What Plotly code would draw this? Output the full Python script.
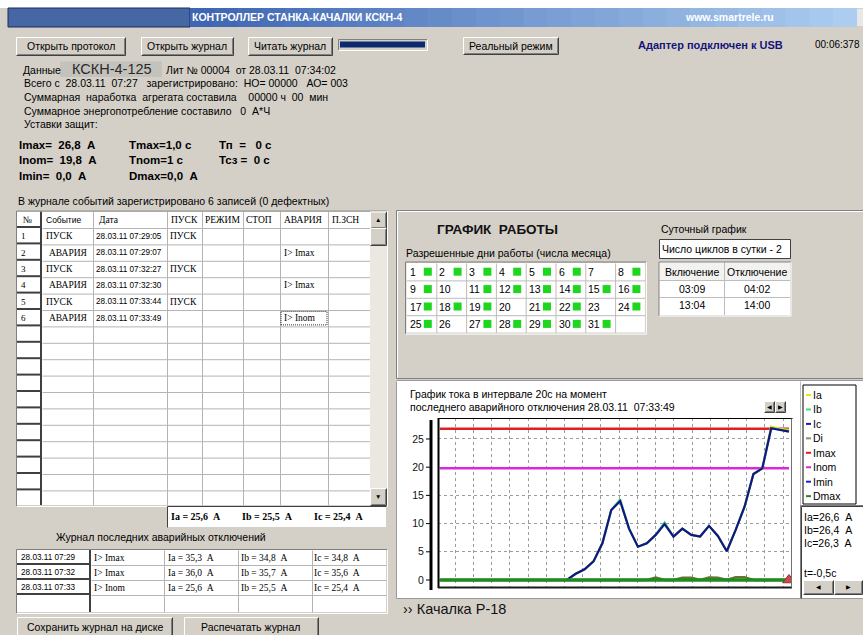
import plotly.graph_objects as go

W, H = 863, 635
BG = "#d4d0c8"
SANS = "Liberation Sans, Arial, sans-serif"
SERIF = "Liberation Serif, Times New Roman, serif"

# ---------------- data ----------------
time_s = [-20.0, -19.5, -19.0, -18.5, -18.0, -17.5, -17.0, -16.5, -16.0, -15.5,
          -15.0, -14.5, -14.0, -13.5, -13.0, -12.5, -12.0, -11.5, -11.0, -10.5,
          -10.0, -9.5, -9.0, -8.5, -8.0, -7.5, -7.0, -6.5, -6.0, -5.5,
          -5.0, -4.5, -4.0, -3.5, -3.0, -2.5, -2.0, -1.5, -1.0, -0.5]
current_ia = [0, 0, 0, 0, 0, 0, 0, 0, 0, 0, 0, 0, 0, 0, 0,
              1.1, 1.9, 3.3, 6.5, 12.4, 14.0, 9.1, 5.9, 6.5, 8.0,
              9.9, 7.7, 9.1, 8.0, 7.7, 9.6, 7.8, 5.1, 8.9, 13.0,
              18.8, 19.8, 27.2, 26.8, 26.6]
current_ib = [0, 0, 0, 0, 0, 0, 0, 0, 0, 0, 0, 0, 0, 0, 0,
              1.1, 1.9, 3.3, 6.5, 12.4, 14.3, 9.1, 5.9, 6.5, 8.0,
              10.2, 7.7, 9.1, 8.0, 7.7, 9.6, 7.8, 5.1, 8.9, 13.0,
              18.8, 19.8, 26.9, 26.6, 26.4]
current_ic = [0, 0, 0, 0, 0, 0, 0, 0, 0, 0, 0, 0, 0, 0, 0,
              1.1, 1.9, 3.3, 6.5, 12.4, 14.0, 9.1, 5.9, 6.5, 8.0,
              9.9, 7.7, 9.1, 8.0, 7.7, 9.6, 7.8, 5.1, 8.9, 13.0,
              18.8, 19.8, 26.9, 26.6, 26.3]
current_di = [0, 0, 0, 0, 0, 0, 0, 0, 0, 0, 0, 0, 0, 0, 0,
              0, 0, 0, 0, 0, 0, 0, 0, 0, 0.45,
              0, 0, 0.4, 0.4, 0, 0.45, 0.4, 0, 0.5, 0.5,
              0, 0, 0, 0, 0]
IMAX, INOM, IMIN, DMAX = 26.8, 19.8, 0.0, 0.0
trip_t = [-0.5]
trip_v = [0.0]
y_ticks = [0, 5, 10, 15, 20, 25]

legend_names = ["Ia", "Ib", "Ic", "Di", "Imax", "Inom", "Imin", "Dmax"]
legend_colors = ["#e6e600", "#3ee07a", "#1a1ac0", "#8c8c78", "#e02020", "#d82ad8", "#2020d0", "#218a21"]

ev_headers = ["№", "Событие", "Дата", "ПУСК", "РЕЖИМ", "СТОП", "АВАРИЯ", "П.ЗСН"]
ev_no = ["1", "2", "3", "4", "5", "6"]
ev_type = ["ПУСК", "АВАРИЯ", "ПУСК", "АВАРИЯ", "ПУСК", "АВАРИЯ"]
ev_date = ["28.03.11 07:29:05", "28.03.11 07:29:07", "28.03.11 07:32:27",
           "28.03.11 07:32:30", "28.03.11 07:33:44", "28.03.11 07:33:49"]
ev_start = ["ПУСК", "", "ПУСК", "", "ПУСК", ""]
ev_alarm = ["", "I> Imax", "", "I> Imax", "", "I> Inom"]

al_date = ["28.03.11 07:29", "28.03.11 07:32", "28.03.11 07:33"]
al_reason = ["I> Imax", "I> Imax", "I> Inom"]
al_ia = ["35,3", "36,0", "25,6"]
al_ib = ["34,8", "35,7", "25,5"]
al_ic = ["34,8", "35,6", "25,4"]

day_numbers = [1, 2, 3, 4, 5, 6, 7, 8, 9, 10, 11, 12, 13, 14, 15, 16,
               17, 18, 19, 20, 21, 22, 23, 24, 25, 26, 27, 28, 29, 30, 31]
day_enabled = [1, 1, 1, 1, 1, 1, 0, 1, 1, 0, 1, 1, 1, 1, 1, 1,
               1, 1, 1, 0, 1, 1, 0, 1, 1, 0, 1, 1, 1, 1, 1]
sched_on = ["03:09", "13:04"]
sched_off = ["04:02", "14:00"]

# ---------------- helpers ----------------
shapes, ann = [], []


def X(px):
    return px / W


def Y(py):
    return 1 - py / H


def rect(x0, y0, x1, y1, fill, line=None, lw=1, layer="below", dash=None):
    ld = dict(width=0) if line is None else dict(color=line, width=lw)
    if dash:
        ld["dash"] = dash
    shapes.append(dict(type="rect", xref="paper", yref="paper", x0=X(x0), x1=X(x1),
                       y0=Y(y1), y1=Y(y0), fillcolor=fill, layer=layer, line=ld))


def ln(x0, y0, x1, y1, color, lw=1, layer="below", dash=None):
    o = 0.5 if lw == 1 else 0
    ld = dict(color=color, width=lw)
    if dash:
        ld["dash"] = dash
    shapes.append(dict(type="line", xref="paper", yref="paper", x0=X(x0 + o), x1=X(x1 + o),
                       y0=Y(y0 + o), y1=Y(y1 + o), layer=layer, line=ld))


def txt(x, y, s, size=10.5, color="black", family=SANS, bold=False, anchor="left"):
    s = s.replace(" ", "\u00a0")
    if bold:
        s = "<b>" + s + "</b>"
    ann.append(dict(xref="paper", yref="paper", x=X(x), y=Y(y), text=s, showarrow=False,
                    xanchor=anchor, yanchor="middle", borderpad=0,
                    font=dict(size=size, color=color, family=family)))


def sunken(x0, y0, x1, y1):
    ln(x0, y0, x1, y0, "#808080")
    ln(x0, y0, x0, y1, "#808080")
    ln(x0, y1, x1, y1, "#ffffff")
    ln(x1, y0, x1, y1, "#ffffff")


def button(x0, y0, x1, y1, label=None, size=10.5):
    rect(x0, y0, x1, y1, BG)
    ln(x0, y0, x1, y0, "#ffffff")
    ln(x0, y0, x0, y1, "#ffffff")
    ln(x0, y1, x1, y1, "#404040")
    ln(x1, y0, x1, y1, "#404040")
    ln(x0 + 1, y1 - 1, x1 - 1, y1 - 1, "#808080")
    ln(x1 - 1, y0 + 1, x1 - 1, y1 - 1, "#808080")
    if label:
        txt((x0 + x1) / 2, (y0 + y1) / 2, label, size=size, anchor="center")


# ---------------- window chrome ----------------
rect(0, 0, W, 8, "#ffffff")
rect(8, 8, 190, 27, "#4666a4", line="#1c2c5c")
n_steps = 28
c0, c1 = (62, 102, 178), (172, 205, 240)
for i in range(n_steps):
    f = i / (n_steps - 1)
    col = "rgb(%d,%d,%d)" % tuple(int(c0[k] + (c1[k] - c0[k]) * f) for k in range(3))
    xa = 190 + (857 - 190) * i / n_steps
    xb = 190 + (857 - 190) * (i + 1) / n_steps + 0.6
    rect(xa, 8, xb, 27, col)
rect(857, 9, 863, 26, "#e8e8e8")
txt(191, 17.5, "КОНТРОЛЛЕР СТАНКА-КАЧАЛКИ КСКН-4", size=10.5, color="white", bold=True)
txt(684, 17.5, "www.smartrele.ru", size=10.5, color="white", bold=True)

# top buttons
button(16, 37, 125, 55, "Открыть протокол")
button(141, 37, 233, 55, "Открыть журнал")
button(248, 37, 332, 55, "Читать журнал")
sunken(338, 39, 427, 50)
rect(340, 41.5, 425, 47.5, "#0c2a6e")
button(463, 37, 558, 54, "Реальный режим")
txt(637, 45, "Адаптер подключен к USB", size=11, color="#14147a", bold=True)
txt(814, 45, "00:06:378", size=10)

# info block
txt(22, 69.5, "Данные")
rect(60, 61.5, 162, 77, "#c4c2bc")
txt(71, 69, "КСКН-4-125", size=14.5, color="#2a2a2a")
txt(165, 70, "Лит № 00004  от 28.03.11  07:34:02")
txt(23, 83, "Всего с  28.03.11  07:27   зарегистрировано:  НО= 00000   АО= 003")
txt(23, 97, "Суммарная  наработка  агрегата составила    00000 ч  00  мин")
txt(23, 110.5, "Суммарное энергопотребление составило   0  А*Ч")
txt(23, 124, "Уставки защит:")
txt(18, 145, "Imax=  26,8  А", size=11.5, bold=True)
txt(128, 145, "Tmax=1,0 с", size=11.5, bold=True)
txt(218, 145, "Тп  =   0 с", size=11.5, bold=True)
txt(18, 160, "Inom=  19,8  А", size=11.5, bold=True)
txt(128, 160, "Tnom=1 с", size=11.5, bold=True)
txt(218, 160, "Тсз =  0 с", size=11.5, bold=True)
txt(18, 176, "Imin=  0,0  А", size=11.5, bold=True)
txt(128, 176, "Dmax=0,0  А", size=11.5, bold=True)

# ---------------- event table ----------------
txt(17, 201, "В журнале событий зарегистрировано 6 записей (0 дефектных)")
col_x = [17, 42, 93, 167, 202, 243, 280, 328, 370]
tbl_top, hdr_bot, row_h, tbl_bot = 211.6, 228, 16.4, 505
rect(col_x[0], tbl_top, col_x[-1], tbl_bot, "#ffffff")
k = 0
while hdr_bot + row_h * k < tbl_bot:
    yy = hdr_bot + row_h * k
    ln(col_x[1], yy, col_x[-1], yy, "#b4b4b4")
    ln(col_x[0], yy - 1, col_x[1], yy - 1, "#404040", 2)
    k += 1
for cx in col_x[2:-1]:
    ln(cx, tbl_top, cx, tbl_bot, "#b4b4b4")
ln(col_x[1] - 1, tbl_top, col_x[1] - 1, tbl_bot, "#404040", 2)
sunken(col_x[0] - 1, tbl_top - 1, 387, tbl_bot + 1)
# header
hdr_x = [22, 45, 98, 170, 204, 245, 283, 331]
hdr_font = [SERIF, SANS, SERIF, SERIF, SERIF, SERIF, SERIF, SERIF]
hdr_size = [9.5, 8.5, 9.5, 9.5, 9.5, 9.5, 9.5, 9.5]
for i, h in enumerate(ev_headers):
    txt(hdr_x[i], (tbl_top + hdr_bot) / 2, h, size=hdr_size[i], family=hdr_font[i])
for r in range(len(ev_no)):
    yc = hdr_bot + row_h * r + row_h / 2
    txt(20, yc, ev_no[r], size=9, family=SERIF)
    txt(45 if ev_type[r] == "ПУСК" else 48, yc, ev_type[r], size=9.5, family=SERIF)
    txt(95, yc, ev_date[r], size=8.2)
    if ev_start[r]:
        txt(169, yc, ev_start[r], size=9.5, family=SERIF)
    if ev_alarm[r]:
        txt(283, yc, ev_alarm[r], size=9.5, family=SERIF)
# focus rect on last alarm cell
last = len(ev_no) - 1
rect(281, hdr_bot + row_h * last + 1.5, 327, hdr_bot + row_h * (last + 1) - 1.5, "rgba(0,0,0,0)",
     line="#303030", lw=1, dash="1px,1px")
# scrollbar
rect(370, tbl_top, 387, tbl_bot, "#ebe8e2")
button(370, tbl_top, 386, hdr_bot, "▲", size=6.5)
button(370, hdr_bot, 386, hdr_bot + 17)
button(370, tbl_bot - 17, 386, tbl_bot, "▼", size=6.5)

# current readings box
rect(167, 506, 386, 527, "#ffffff")
ln(167, 506, 386, 506, "#404040")
ln(167, 506, 167, 527, "#404040")
txt(170, 516, "Ia = 25,6  А", size=10, family=SERIF, bold=True)
txt(241, 516, "Ib = 25,5  А", size=10, family=SERIF, bold=True)
txt(313, 516, "Ic = 25,4  А", size=10, family=SERIF, bold=True)

# ---------------- alarm journal ----------------
txt(55, 537, "Журнал последних аварийных отключений")
a_cols = [17, 91, 164, 238, 312, 386]
a_rows = [550, 565, 580, 595, 612]
rect(a_cols[0], a_rows[0], a_cols[-1], a_rows[-1], "#ffffff")
for ry in a_rows[1:-1]:
    ln(a_cols[1], ry, a_cols[-1], ry, "#b4b4b4")
    ln(a_cols[0], ry - 1, a_cols[1], ry - 1, "#404040", 2)
for cx in a_cols[2:-1]:
    ln(cx, a_rows[0], cx, a_rows[-1], "#b4b4b4")
ln(a_cols[1] - 1, a_rows[0], a_cols[1] - 1, a_rows[-1], "#404040", 2)
sunken(a_cols[0] - 1, a_rows[0] - 1, a_cols[-1] + 1, a_rows[-1] + 1)
for r in range(len(al_date)):
    yc = (a_rows[r] + a_rows[r + 1]) / 2
    txt(20, yc, al_date[r], size=8.2)
    txt(93, yc, al_reason[r], size=9.5, family=SERIF)
    txt(167, yc, "Ia = " + al_ia[r] + "  A", size=9.5, family=SERIF)
    txt(240, yc, "Ib = " + al_ib[r] + "  A", size=9.5, family=SERIF)
    txt(313, yc, "Ic = " + al_ic[r] + "  A", size=9.5, family=SERIF)

button(17, 617, 172, 636, "Сохранить журнал на диске")
button(184, 617, 318, 636, "Распечатать журнал")

# ---------------- schedule panel ----------------
ln(396, 210, 863, 210, "#808080")
ln(396, 210, 396, 378, "#808080")
ln(397, 211, 863, 211, "#ffffff")
ln(397, 211, 397, 377, "#ffffff")
ln(396, 378, 863, 378, "#808080")
txt(498, 229, "ГРАФИК  РАБОТЫ", size=13.5, color="#111111", bold=True, anchor="center")
txt(405, 253, "Разрешенные дни работы (числа месяца)")
gx0, gy0, cw, ch = 406.5, 263, 29.8, 17.4
rect(gx0, gy0, gx0 + 8 * cw, gy0 + 4 * ch, "#ffffff")
for c in range(1, 8):
    ln(gx0 + c * cw, gy0, gx0 + c * cw, gy0 + 4 * ch, "#bcbcbc")
for r in range(1, 4):
    ln(gx0, gy0 + r * ch, gx0 + 8 * cw, gy0 + r * ch, "#bcbcbc")
sunken(gx0 - 1.5, gy0 - 1.5, gx0 + 8 * cw + 1, gy0 + 4 * ch + 1)
for i, d in enumerate(day_numbers):
    r, c = divmod(i, 8)
    cl = gx0 + c * cw
    ct = gy0 + r * ch
    txt(cl + 2, ct + ch / 2, str(d), size=10.5)
    if day_enabled[i]:
        rect(cl + cw - 12.5, ct + ch / 2 - 4, cl + cw - 4.5, ct + ch / 2 + 4, "#1ed61e")

txt(660, 229, "Суточный график")
rect(659, 239, 790, 258, "#ffffff")
ln(659, 239, 790, 239, "#404040")
ln(659, 239, 659, 258, "#404040")
ln(659, 258, 790, 258, "#404040")
ln(790, 239, 790, 258, "#404040")
txt(661, 248.5, "Число циклов в сутки - 2")
rect(659, 262, 790, 315, "#ffffff")
rect(660, 263, 790, 280, "#f2f2f0")
ln(659, 280, 790, 280, "#bcbcbc")
ln(659, 297, 790, 297, "#bcbcbc")
ln(724, 262, 724, 315, "#bcbcbc")
sunken(658.5, 261.5, 790.5, 315.5)
txt(691.5, 271.5, "Включение", anchor="center")
txt(757, 271.5, "Отключение", anchor="center")
for r in range(len(sched_on)):
    yc = 288.5 + 17 * r
    txt(691.5, yc, sched_on[r], anchor="center")
    txt(757, yc, sched_off[r], anchor="center")

# ---------------- chart panel ----------------
rect(396, 381, 863, 598, "#ffffff")
ln(396, 380, 863, 380, "#9a9a9a")
ln(396, 381, 396, 598, "#9a9a9a")
ln(396, 598, 863, 598, "#9a9a9a")
ln(800, 381, 800, 505, "#bdbdbd")
txt(409, 394, "График тока в интервале 20с на момент")
txt(409, 406.5, "последнего аварийного отключения 28.03.11  07:33:49")
button(764, 401, 774, 412, "◀", size=5.5)
button(775, 401, 785, 412, "▶", size=5.5)

# legend box
rect(803, 385, 856, 504, "#ffffff", line="#000000", lw=1)
for i, (nm, colr) in enumerate(zip(legend_names, legend_colors)):
    yy = 395 + 14.45 * i
    ln(806, yy, 811, yy, colr, 2)
    txt(812, yy, nm, size=10.5)

# info box
rect(800, 505, 863, 598, "#ffffff")
ln(800, 505, 863, 505, "#808080")
ln(800, 505, 800, 598, "#808080")
ln(801, 506, 863, 506, "#404040")
ln(801, 506, 801, 598, "#404040")
txt(803, 517, "Ia=26,6  A")
txt(803, 530, "Ib=26,4  A")
txt(803, 543, "Ic=26,3  A")
txt(803, 573, "t=-0,5c")
button(803, 580, 833, 594, "◀", size=5.5)
button(834, 580, 862, 594, "▶", size=5.5)

txt(402, 609, "›› Качалка Р-18", size=14.5, color="#111111")

# chart frame and axis decorations
ln(438, 418, 792, 418, "#000000", 1, "above")
ln(438.5, 418, 438.5, 588, "#000000", 2, "above")
ln(438, 587.5, 792, 587.5, "#1a1a1a", 2, "above")
ln(791, 418, 791, 587, "#707070", 1, "above")
ln(431, 420, 431, 590, "#000000", 3, "above")
for v in y_ticks:
    shapes.append(dict(type="line", xref="paper", yref="y", x0=X(426), x1=X(430), y0=v, y1=v,
                       line=dict(color="#000000", width=1), layer="above"))

# ---------------- traces ----------------
X_RANGE = [-20.25, -0.33]
fig = go.Figure()


def level(value, color, width):
    fig.add_trace(go.Scatter(x=[X_RANGE[0] + 0.1, time_s[-1]], y=[value, value], mode="lines",
                             line=dict(color=color, width=width), hoverinfo="skip"))


level(IMIN, legend_colors[6], 2)
level(INOM, legend_colors[5], 2.5)
level(IMAX, legend_colors[4], 2.5)
fig.add_trace(go.Scatter(x=time_s, y=current_ia, mode="lines", line=dict(color=legend_colors[0], width=2.2)))
fig.add_trace(go.Scatter(x=time_s, y=current_ib, mode="lines", line=dict(color=legend_colors[1], width=2.2)))
fig.add_trace(go.Scatter(x=time_s, y=current_ic, mode="lines", line=dict(color="#14148c", width=2.2)))
fig.add_trace(go.Scatter(x=time_s, y=current_di, mode="lines", line=dict(color="#5f7a2a", width=2.5)))
level(DMAX, legend_colors[7], 3.5)
fig.add_trace(go.Scatter(x=trip_t, y=trip_v, mode="markers",
                         marker=dict(symbol="triangle-up", size=11, color="#c84a4a",
                                     line=dict(color="#903030", width=1))))

fig.update_layout(
    width=W, height=H, autosize=False,
    margin=dict(l=0, r=0, t=0, b=0, pad=0),
    paper_bgcolor=BG, plot_bgcolor="rgba(0,0,0,0)",
    showlegend=False,
    shapes=shapes, annotations=ann,
    xaxis=dict(domain=[X(438), X(792)], range=X_RANGE, showgrid=True, gridcolor="#9c9c9c",
               griddash="3px,3px", gridwidth=1, tick0=-19.277, dtick=1.0247,
               showticklabels=False, ticks="", zeroline=False, showline=False, fixedrange=True),
    yaxis=dict(domain=[Y(587), Y(418)], range=[-1.24, 28.72], tickvals=y_ticks,
               ticktext=[str(v) for v in y_ticks], showgrid=True, gridcolor="#9c9c9c",
               griddash="3px,3px", gridwidth=1, ticks="outside", ticklen=11,
               tickcolor="rgba(0,0,0,0)", tickfont=dict(family=SANS, size=10.5, color="#111111"),
               zeroline=False, showline=False, fixedrange=True),
    hovermode=False,
)

fig.write_html("out.html", config={"displayModeBar": False},
               post_script="document.body.style.margin='0px';")
